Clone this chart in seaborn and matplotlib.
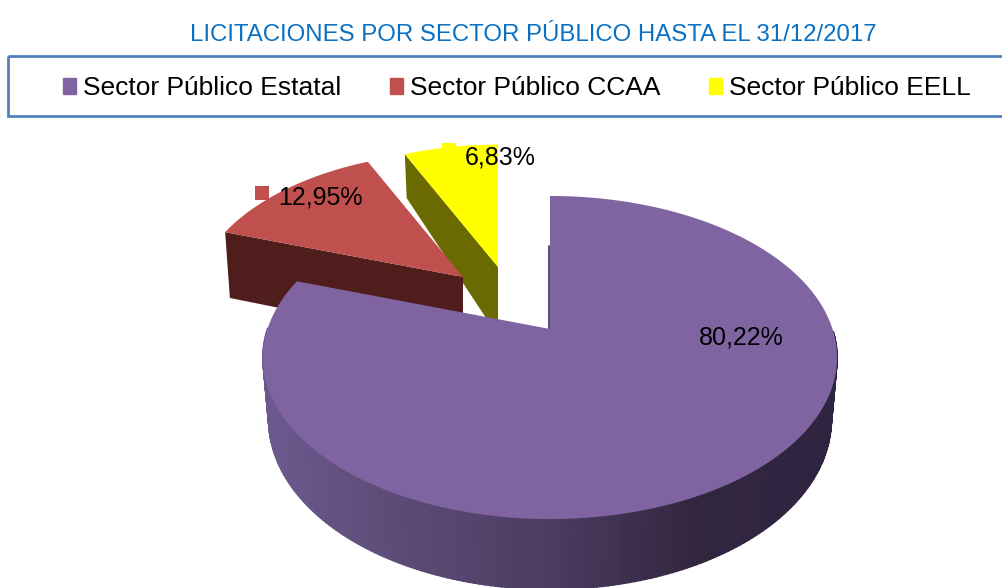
import numpy as np
import matplotlib
matplotlib.use('Agg')
import matplotlib.pyplot as plt
from matplotlib.patches import Patch, Rectangle
import seaborn as sns

title = 'LICITACIONES POR SECTOR PÚBLICO HASTA EL 31/12/2017'
sectors = ['Sector Público Estatal', 'Sector Público CCAA', 'Sector Público EELL']
shares = [80.22, 12.95, 6.83]

colors = ['#8064a2', '#c0504d', '#ffff00']
# look of the fake 3d: apex in pixels, radius scale, wall depth and taper
apexes = [(550, 329), (463, 277), (498, 267)]
scales = [1.0, 0.94, 0.92]
depths = [60, 68, 69]
tapers = [0.17, 0.1, 0.4]
wall_colors = ['#4b3c62', '#4f1d1b', '#6b6a00']
label_pos = [(741, 338), (320, 197), (500, 157)]
key_pos = [None, (262, 193), (449, 150)]

# perspective of the disc
A, B, K = 156.5, 282.5, 0.1765


def rim(theta, scale):
    # clockwise from the top of the disc, returns offsets from the apex
    u, v = np.sin(theta), np.cos(theta)
    s = 1 / (1 + K * v)
    return scale * B * u * s, -scale * A * v * s, v


def wall_points(theta, i):
    x, y, v = rim(theta, scales[i])
    h = depths[i] * (1 - tapers[i] * v)
    return x * 0.98, y + h


sns.set_theme(style='white')
plt.rcParams['font.family'] = ['Liberation Sans', 'DejaVu Sans']

fig = plt.figure(figsize=(10.02, 5.88), dpi=100)
ax = fig.add_axes([0, 0, 1, 1])
ax.set_xlim(0, 1002)
ax.set_ylim(588, 0)
ax.axis('off')

edges = np.deg2rad(np.concatenate([[0], np.cumsum(shares)]) * 3.6)

# back to front: yellow, red, purple
for i in [2, 1, 0]:
    ax0, ay0 = apexes[i]
    t = np.linspace(edges[i], edges[i + 1], 300)
    x, y, v = rim(t, scales[i])
    if i == 0:
        # curved wall, shaded left to right, only the part facing us
        wx, wy = wall_points(t, i)
        shades = sns.blend_palette(['#6c5a8f', '#5c4a74', '#4b3c62', '#32263f', '#2f2440'], 300)
        for j in range(len(t) - 1):
            if v[j] > 0:
                continue
            quad_x = [x[j], x[j + 1], wx[j + 1], wx[j]]
            quad_y = [y[j], y[j + 1], wy[j + 1], wy[j]]
            pos = (np.mean(quad_x) + 287) / 574
            c = shades[int(np.clip(pos, 0, 1) * 299)]
            ax.fill(ax0 + np.array(quad_x), ay0 + np.array(quad_y), color=c, lw=1.2, zorder=2)
        # thin dark edge of the cut
        ax.plot([ax0 - 1, ax0 - 1], [ay0 + y[0] + 50, ay0], color='#3a2f55', lw=1.2, zorder=2)
    else:
        # flat radial wall seen from the front
        cx, cy, _ = rim(edges[i], scales[i])
        wx, wy = wall_points(edges[i], i)
        ax.fill([ax0 + cx, ax0, ax0, ax0 + wx],
                [ay0 + cy, ay0, ay0 + depths[i], ay0 + wy],
                color=wall_colors[i], lw=0, zorder=2)
    ax.fill(np.r_[ax0, ax0 + x], np.r_[ay0, ay0 + y], color=colors[i], lw=0, zorder=2)

for i in range(3):
    txt = f'{shares[i]:.2f}'.replace('.', ',') + '%'
    ax.text(label_pos[i][0], label_pos[i][1], txt, fontsize=18, color='black',
            ha='center', va='center', zorder=5)
    if key_pos[i] is not None:
        ax.scatter(*key_pos[i], marker='s', s=90, color=colors[i], lw=0, zorder=4)

ax.text(533, 35, title, fontsize=17.3, color='#0a70c2', ha='center', va='center')

# legend box runs off the right side
ax.add_patch(Rectangle((8, 56), 1010, 60, fill=False, edgecolor='#4f81bd', lw=2, clip_on=True))
handles = [Patch(color=c, label=s) for c, s in zip(colors, sectors)]
ax.legend(handles=handles, ncol=3, frameon=False, fontsize=19, loc='center',
          bbox_to_anchor=(517, 88), bbox_transform=ax.transData, labelcolor='black',
          handlelength=0.48, handleheight=0.55, handletextpad=0.28, columnspacing=1.85)

fig.savefig('out.png', dpi=100)
